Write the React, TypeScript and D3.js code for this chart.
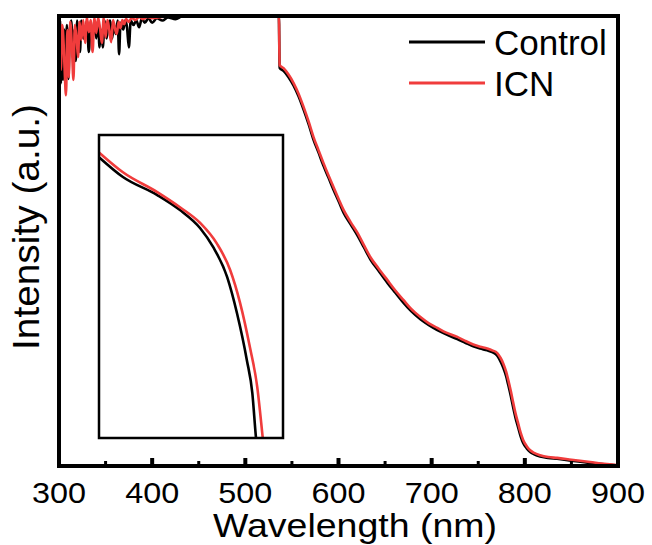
import React, { useEffect, useRef } from "react";
import * as d3 from "d3";

// main spectra: [wavelength nm, intensity a.u.] (clipped at top = 1)
const controlData: [number, number][] = [
  [300, 0.93], [301, 0.99], [302, 0.85], [303, 0.97], [304.3, 0.858], [305.5, 0.97], [307, 0.89], [308.5, 0.98],
  [310, 0.86], [311.5, 0.96], [313, 0.99], [315, 0.925], [316.5, 0.97], [318, 0.9], [319.5, 0.99], [321, 0.95],
  [322.5, 0.92], [324, 0.99], [326, 0.95], [328, 0.96], [330, 0.99], [332, 0.92], [334, 0.98], [336, 0.95],
  [338, 0.99], [340, 0.95], [342, 0.99], [343.5, 0.93], [345, 0.97], [347, 0.93], [349, 0.99], [351, 0.95],
  [353, 0.98], [355, 0.99], [357, 0.95], [359, 0.98], [361, 0.96], [363, 0.99], [364.5, 0.915], [366, 0.985],
  [369, 0.97], [371, 0.99], [373, 0.975], [375, 0.93], [377, 0.99], [380, 0.98], [383, 0.99], [386, 0.975],
  [389, 0.995], [392, 0.985], [396, 0.995], [400, 0.985], [405, 0.995], [411, 0.99], [417, 0.997], [425, 0.993],
  [433, 1.0], [536, 1.0], [536.8, 0.885], [541, 0.878], [546, 0.865], [551.8, 0.845], [557, 0.822],
  [562.5, 0.792], [568, 0.759], [573.2, 0.725], [578.5, 0.697], [583.9, 0.667], [589, 0.642], [594.6, 0.614],
  [600, 0.589], [605.4, 0.563], [613, 0.537], [620.4, 0.512], [627, 0.487], [634.3, 0.459], [643, 0.434],
  [652.5, 0.407], [661, 0.385], [669.6, 0.363], [678, 0.344], [687.9, 0.326], [697, 0.313], [706.1, 0.302],
  [715, 0.293], [727.5, 0.282], [736, 0.274], [744.6, 0.266], [752, 0.261], [759.6, 0.257], [765, 0.253],
  [770.4, 0.245], [774, 0.232], [776.8, 0.219], [780, 0.199], [782.1, 0.181], [785, 0.155], [787.5, 0.130],
  [790, 0.107], [792.9, 0.085], [795.5, 0.066], [798.2, 0.051], [802, 0.039], [805.7, 0.031], [810, 0.026],
  [816.4, 0.021], [825, 0.018], [834.6, 0.016], [850, 0.012], [870, 0.007], [885, 0.004], [900, 0.001]
];

const icnData: [number, number][] = [
  [300, 0.9], [301, 0.99], [302, 0.88], [303.5, 0.98], [305, 0.936], [306, 0.884], [307.5, 0.824], [309, 0.969],
  [310.5, 0.864], [312, 0.987], [314, 0.924], [315.5, 0.858], [317, 0.98], [319, 0.947], [320.5, 0.909],
  [322, 0.987], [324, 0.947], [326, 0.991], [328, 0.94], [330, 0.996], [332, 0.964], [334, 0.991], [336, 0.92],
  [338, 0.996], [340, 0.962], [342, 0.996], [344, 0.973], [346, 0.94], [348, 0.996], [350, 0.953], [352, 0.991],
  [354, 0.969], [356, 0.942], [358, 0.991], [360, 0.973], [362, 0.96], [364, 0.987], [366, 0.973], [368, 0.991],
  [370, 0.982], [372, 0.993], [375, 0.987], [378, 0.996], [382, 0.991], [386, 0.998], [390, 0.993], [395, 0.998],
  [400, 0.995], [410, 0.998], [420, 1.0], [536, 1.0], [536.8, 0.891], [541, 0.884], [546, 0.871],
  [551.8, 0.851], [557, 0.828], [562.5, 0.798], [568, 0.765], [573.2, 0.731], [578.5, 0.702], [583.9, 0.673],
  [589, 0.647], [594.6, 0.62], [600, 0.594], [605.4, 0.569], [613, 0.542], [620.4, 0.518], [627, 0.492],
  [634.3, 0.464], [643, 0.439], [652.5, 0.413], [661, 0.39], [669.6, 0.369], [678, 0.349], [687.9, 0.331],
  [697, 0.317], [706.1, 0.307], [715, 0.297], [727.5, 0.287], [736, 0.278], [744.6, 0.27], [752, 0.265],
  [759.6, 0.261], [765, 0.257], [770.4, 0.251], [774, 0.24], [776.8, 0.228], [780, 0.209], [782.1, 0.192],
  [785, 0.166], [787.5, 0.141], [790, 0.117], [792.9, 0.094], [795.5, 0.074], [798.2, 0.058], [802, 0.044],
  [805.7, 0.035], [810, 0.029], [816.4, 0.024], [825, 0.02], [834.6, 0.018], [850, 0.014], [870, 0.009],
  [885, 0.005], [900, 0.002]
];

// inset (zoomed part)
const insetControl: [number, number][] = [
  [770, 0.281], [773.9, 0.264], [779.5, 0.2485], [783.2, 0.2356], [786.5, 0.22], [788.6, 0.204],
  [790.9, 0.178], [792.5, 0.147], [794.1, 0.107], [795.0, 0.0786], [795.6, 0.04], [795.8, 0.03]
];
const insetIcn: [number, number][] = [
  [770, 0.285], [773.9, 0.268], [779.5, 0.251], [783.2, 0.238], [786.5, 0.2245], [789.2, 0.207],
  [791.4, 0.184], [793.0, 0.156], [794.6, 0.118], [795.8, 0.0838], [796.7, 0.04], [796.9, 0.03]
];

const xTicks = [300, 400, 500, 600, 700, 800, 900];
const xMinor = [350, 450, 550, 650, 750, 850];
const seriesNames = ["Control", "ICN"];
const colors = ["#000000", "#f03c3c"];

const font = "'Liberation Sans', Arial, sans-serif";

export default function App() {
  const ref = useRef<SVGSVGElement>(null);

  useEffect(() => {
    const svg = d3.select(ref.current);
    svg.selectAll("*").remove();

    const left = 59, right = 618, top = 16, bottom = 466;
    const x = d3.scaleLinear().domain([300, 900]).range([left, right]);
    const y = d3.scaleLinear().domain([0, 1]).range([bottom, top]);

    svg.append("clipPath").attr("id", "plotclip")
      .append("rect").attr("x", left).attr("y", top).attr("width", right - left).attr("height", bottom - top);

    const line = d3.line<[number, number]>().x(d => x(d[0])).y(d => y(d[1])).curve(d3.curveMonotoneX);
    const g = svg.append("g").attr("clip-path", "url(#plotclip)");
    [controlData, icnData].forEach((data, i) => {
      g.append("path").attr("d", line(data)).attr("fill", "none")
        .attr("stroke", colors[i]).attr("stroke-width", 2.6).attr("stroke-linejoin", "round");
    });

    // inset
    const ix = d3.scaleLinear().domain([770, 800]).range([99, 283]);
    const iy = d3.scaleLinear().domain([0.04, 0.3]).range([438, 135]);
    svg.append("clipPath").attr("id", "insetclip")
      .append("rect").attr("x", 99).attr("y", 135).attr("width", 184).attr("height", 303);
    const iline = d3.line<[number, number]>().x(d => ix(d[0])).y(d => iy(d[1])).curve(d3.curveMonotoneX);
    const ig = svg.append("g").attr("clip-path", "url(#insetclip)");
    [insetControl, insetIcn].forEach((data, i) => {
      ig.append("path").attr("d", iline(data)).attr("fill", "none")
        .attr("stroke", colors[i]).attr("stroke-width", 2.6);
    });
    svg.append("rect").attr("x", 99).attr("y", 135).attr("width", 184).attr("height", 303)
      .attr("fill", "none").attr("stroke", "#000").attr("stroke-width", 2.5);

    // frame
    svg.append("rect").attr("x", left).attr("y", top).attr("width", right - left).attr("height", bottom - top)
      .attr("fill", "none").attr("stroke", "#000").attr("stroke-width", 4);

    // ticks
    svg.selectAll(".major").data(xTicks).join("line").attr("class", "major")
      .attr("x1", d => x(d)).attr("x2", d => x(d)).attr("y1", bottom).attr("y2", bottom - 8)
      .attr("stroke", "#000").attr("stroke-width", 4);
    svg.selectAll(".minor").data(xMinor).join("line").attr("class", "minor")
      .attr("x1", d => x(d)).attr("x2", d => x(d)).attr("y1", bottom).attr("y2", bottom - 5)
      .attr("stroke", "#000").attr("stroke-width", 3);
    svg.selectAll(".tlab").data(xTicks).join("text").attr("class", "tlab")
      .attr("x", d => x(d)).attr("y", 503).attr("text-anchor", "middle")
      .attr("textLength", 54).attr("lengthAdjust", "spacingAndGlyphs")
      .style("font-family", font).style("font-size", "30px").text(d => d);

    svg.append("text").attr("x", 355).attr("y", 537).attr("text-anchor", "middle")
      .attr("textLength", 284).attr("lengthAdjust", "spacingAndGlyphs")
      .style("font-family", font).style("font-size", "34px").text("Wavelength (nm)");
    svg.append("text").attr("transform", "translate(39, 227) rotate(-90)").attr("text-anchor", "middle")
      .attr("textLength", 246).attr("lengthAdjust", "spacingAndGlyphs")
      .style("font-family", font).style("font-size", "36px").text("Intensity (a.u.)");

    // legend
    seriesNames.forEach((name, i) => {
      const ly = 42 + i * 41;
      svg.append("line").attr("x1", 409).attr("x2", 485).attr("y1", ly).attr("y2", ly)
        .attr("stroke", colors[i]).attr("stroke-width", 3);
      svg.append("text").attr("x", 494).attr("y", ly + 13)
        .style("font-family", font).style("font-size", "35px").text(name);
    });
  }, []);

  return (
    <svg ref={ref} width={652} height={545}
      style={{ position: "absolute", left: 0, top: 0, background: "#fff" }} />
  );
}
